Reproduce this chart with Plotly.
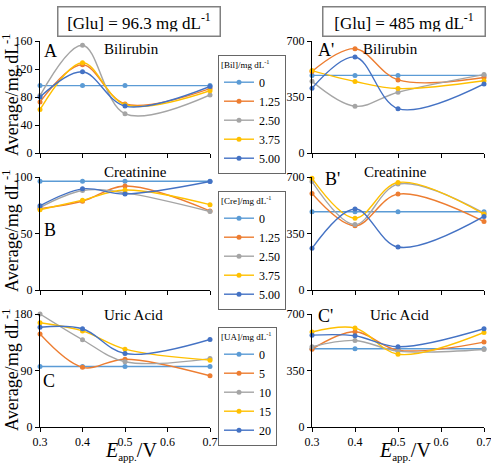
import plotly.graph_objects as go

W, H = 491, 465
FONT = "Liberation Serif, Times New Roman, Times, serif"

E = [0.3, 0.4, 0.5, 0.7]
colors = ["#5B9BD5", "#ED7D31", "#A5A5A5", "#FFC000", "#4472C4"]

bil_levels = ["0", "1.25", "2.50", "3.75", "5.00"]
cre_levels = ["0", "1.25", "2.50", "3.75", "5.00"]
ua_levels = ["0", "5", "10", "15", "20"]

# Panel A: [Glu]=96.3, bilirubin
bil_low = [
    [96.3, 96.3, 96.3, 96.3],
    [73, 126, 70, 92],
    [82, 154, 56, 83],
    [62, 129, 69, 89],
    [80, 116, 67, 95],
]
# Panel A': [Glu]=485, bilirubin
bil_high = [
    [485, 485, 485, 485],
    [510, 652, 457, 472],
    [448, 292, 380, 490],
    [515, 447, 403, 452],
    [405, 600, 277, 432],
]
# Panel B: creatinine, low glucose
cre_low = [
    [96.3, 96.3, 96.3, 96.3],
    [72, 78.5, 92, 70],
    [73, 88, 86, 69.5],
    [71, 79.5, 88.5, 75.5],
    [74.5, 89.5, 85, 96],
]
# Panel B': creatinine, high glucose
cre_high = [
    [485, 485, 485, 485],
    [598, 398, 594, 424],
    [672, 405, 656, 476],
    [692, 445, 666, 470],
    [258, 502, 266, 456],
]
# Panel C: uric acid, low glucose
ua_low = [
    [96.3, 96.3, 96.3, 96.3],
    [148, 95, 108, 81.5],
    [180, 139, 104, 109],
    [166, 153, 124, 106.5],
    [159, 156.5, 117, 139.5],
]
# Panel C': uric acid, high glucose
ua_high = [
    [485, 485, 485, 485],
    [482, 590, 476, 526],
    [497, 536, 470, 480],
    [588, 613, 451, 586],
    [569, 565, 497, 609],
]


def px(x):
    return x / W


def py(y):
    return 1 - y / H


fig = go.Figure()

panels = [
    (bil_low, "x", "y", "legend", bil_levels, True),
    (bil_high, "x2", "y2", "legend", bil_levels, False),
    (cre_low, "x3", "y3", "legend2", cre_levels, True),
    (cre_high, "x4", "y4", "legend2", cre_levels, False),
    (ua_low, "x5", "y5", "legend3", ua_levels, True),
    (ua_high, "x6", "y6", "legend3", ua_levels, False),
]

for data, xa, ya, lg, levels, show in panels:
    for i, vals in enumerate(data):
        fig.add_trace(go.Scatter(
            x=E, y=vals, xaxis=xa, yaxis=ya, legend=lg,
            name=levels[i], showlegend=show,
            mode="lines+markers",
            line=dict(color=colors[i], width=1.4, shape="spline", smoothing=1),
            marker=dict(color=colors[i], size=5),
            cliponaxis=False,
        ))

tickfont = dict(family=FONT, size=12, color="black")
axis_common = dict(
    showgrid=False, zeroline=False, showline=True, linecolor="black", linewidth=1,
    ticks="outside", ticklen=4, tickcolor="black", tickwidth=1, tickfont=tickfont,
    automargin=False, ticklabeloverflow="allow",
)

xl = [px(40), px(210)]
xr = [px(312), px(484)]
rows = [(41, 153), (177, 290), (314, 427)]
left_ranges = [(0, 160, 40), (0, 100, 50), (0, 180, 90)]

layout = dict(
    width=W, height=H, margin=dict(l=0, r=0, t=0, b=0, autoexpand=False),
    paper_bgcolor="white", plot_bgcolor="white",
    font=dict(family=FONT, color="black"),
)

xticks = [0.3, 0.4, 0.5, 0.6, 0.7]
xticktext = ["0.3", "0.4", "0.5", "0.6", "0.7"]

for r in range(3):
    top, bot = rows[r]
    dom = [py(bot), py(top)]
    lx = f"xaxis{'' if r == 0 else 2 * r + 1}"
    ly = f"yaxis{'' if r == 0 else 2 * r + 1}"
    rx = f"xaxis{2 * r + 2}"
    ry = f"yaxis{2 * r + 2}"
    lname = "" if r == 0 else str(2 * r + 1)
    rname = str(2 * r + 2)
    last = r == 2
    layout[lx] = dict(axis_common, domain=xl, range=[0.3, 0.7], tickvals=xticks,
                      ticktext=xticktext, showticklabels=last, anchor="y" + lname)
    layout[rx] = dict(axis_common, domain=xr, range=[0.3, 0.7], tickvals=xticks,
                      ticktext=xticktext, showticklabels=last, anchor="y" + rname)
    lo, hi, dt = left_ranges[r]
    layout[ly] = dict(axis_common, domain=dom, range=[lo, hi], dtick=dt, tick0=0, anchor="x" + lname)
    layout[ry] = dict(axis_common, domain=dom, range=[0, 700], dtick=350, tick0=0, anchor="x" + rname)

legend_common = dict(
    xanchor="left", yanchor="top", bgcolor="white", bordercolor="#666666", borderwidth=1,
    font=dict(family=FONT, size=12, color="black"), tracegroupgap=0, itemwidth=30,
)
layout["legend"] = dict(legend_common, x=px(218), y=py(55),
                        title=dict(text="[Bil]/mg dL<sup>-1</sup>", font=dict(family=FONT, size=9)))
layout["legend2"] = dict(legend_common, x=px(218), y=py(191),
                         title=dict(text="[Cre]/mg dL<sup>-1</sup>", font=dict(family=FONT, size=9)))
layout["legend3"] = dict(legend_common, x=px(218), y=py(327),
                         title=dict(text="[UA]/mg dL<sup>-1</sup>", font=dict(family=FONT, size=9)))

fig.update_layout(**layout)

ann = []


def text(x, y, t, size, **kw):
    d = dict(x=px(x), y=py(y), xref="paper", yref="paper", text=t, showarrow=False,
             xanchor="center", yanchor="middle",
             font=dict(family=FONT, size=size, color="black"))
    d.update(kw)
    ann.append(d)


# header boxes
text(139, 21, "[Glu] = 96.3 mg dL<sup>-1</sup>", 17, bordercolor="#808080", borderwidth=1.5,
     borderpad=4, width=153, height=20, bgcolor="white")
text(404, 21, "[Glu] = 485 mg dL<sup>-1</sup>", 17, bordercolor="#808080", borderwidth=1.5,
     borderpad=4, width=153, height=20, bgcolor="white")
text(0, 5, "interferents.", 13, xanchor="left", yanchor="bottom")

# panel names
for x, y, t in [(131, 49, "Bilirubin"), (390, 49, "Bilirubin"),
                (135, 172, "Creatinine"), (395, 172, "Creatinine"),
                (133, 315, "Uric Acid"), (399, 315, "Uric Acid")]:
    text(x, y, t, 15)

# panel letters
for x, y, t in [(50, 51, "A"), (326, 50, "A'"), (50, 230, "B"), (332, 179, "B'"),
                (49, 381, "C"), (325, 316, "C'")]:
    text(x, y, t, 18)

# y titles
for y in [95, 231, 370]:
    text(10, y, "Average/mg dL<sup>-1</sup>", 18, textangle=-90)

# x titles
for x in [131, 405]:
    text(x, 451, "<i>E</i><sub><span style='font-size:11px'>app.</span></sub>/V", 20)

fig.update_layout(annotations=ann)
fig.write_html("out.html")
